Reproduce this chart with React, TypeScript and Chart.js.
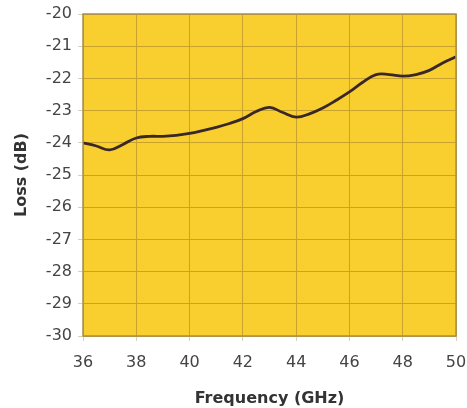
import React, { useEffect, useRef } from "react";
import { Chart, registerables } from "chart.js";

Chart.register(...registerables);

const frequencies = [36, 36.5, 37, 37.5, 38, 38.5, 39, 39.5, 40, 40.5, 41, 41.5, 42, 42.5, 43, 43.5, 44, 44.5, 45, 45.5, 46, 46.5, 47, 47.5, 48, 48.5, 49, 49.5, 50];
const lossDb = [-24.0, -24.1, -24.22, -24.05, -23.85, -23.8, -23.8, -23.77, -23.71, -23.62, -23.52, -23.4, -23.25, -23.03, -22.9, -23.06, -23.2, -23.1, -22.92, -22.68, -22.42, -22.12, -21.88, -21.88, -21.93, -21.88, -21.75, -21.52, -21.33];
const xTitle = "Frequency (GHz)";
const yTitle = "Loss (dB)";

const plotBg = {
  id: "plotBg",
  beforeDraw(chart: any) {
    const { ctx, chartArea } = chart;
    ctx.save();
    ctx.fillStyle = "#F8CF2F";
    ctx.fillRect(chartArea.left, chartArea.top, chartArea.right - chartArea.left, chartArea.bottom - chartArea.top);
    ctx.restore();
  },
  afterDatasetsDraw(chart: any) {
    const { ctx, chartArea } = chart;
    ctx.save();
    ctx.strokeStyle = "#A88F52";
    ctx.lineWidth = 1.5;
    ctx.strokeRect(chartArea.left, chartArea.top, chartArea.right - chartArea.left, chartArea.bottom - chartArea.top);
    ctx.restore();
  },
};

export default function App() {
  const ref = useRef<HTMLCanvasElement>(null);
  useEffect(() => {
    if (!ref.current) return;
    const chart = new Chart(ref.current, {
      type: "line",
      data: {
        datasets: [
          {
            data: frequencies.map((f, i) => ({ x: f, y: lossDb[i] })),
            borderColor: "#3A2828",
            borderWidth: 2.8,
            pointRadius: 0,
            tension: 0.4,
            fill: false,
          },
        ],
      },
      options: {
        responsive: false,
        animation: false,
        layout: { padding: { left: 0, right: 11, top: 14, bottom: 0 } },
        plugins: { legend: { display: false }, tooltip: { enabled: false } },
        scales: {
          x: {
            type: "linear",
            min: 36,
            max: 50,
            afterFit: (s: any) => { s.height = 72; s.paddingLeft = 0; s.paddingRight = 0; },
            ticks: { stepSize: 2, color: "#444444", font: { family: "DejaVu Sans", size: 16 }, padding: 12 },
            grid: { color: "#C9A22B", lineWidth: 1, tickLength: 5, tickColor: "#D8D0B8" },
            border: { display: false },
            title: { display: true, text: xTitle, color: "#333333", font: { family: "DejaVu Sans", size: 16, weight: "bold" }, padding: { top: 5, bottom: 0 } },
          },
          y: {
            min: -30,
            max: -20,
            afterFit: (s: any) => { s.width = 83; s.paddingTop = 0; s.paddingBottom = 0; },
            ticks: { stepSize: 1, color: "#444444", font: { family: "DejaVu Sans", size: 16 }, padding: 6 },
            grid: { color: "#C9A22B", lineWidth: 1, tickLength: 5, tickColor: "#D8D0B8" },
            border: { display: false },
            title: { display: true, text: yTitle, color: "#333333", font: { family: "DejaVu Sans", size: 16, weight: "bold" }, padding: { top: 12, bottom: 0 } },
          },
        },
      },
      plugins: [plotBg],
    });
    return () => chart.destroy();
  }, []);
  return (
    <div style={{ position: "absolute", left: 0, top: 0, width: 467, height: 408, background: "#ffffff" }}>
      <canvas ref={ref} width={467} height={408} />
    </div>
  );
}
